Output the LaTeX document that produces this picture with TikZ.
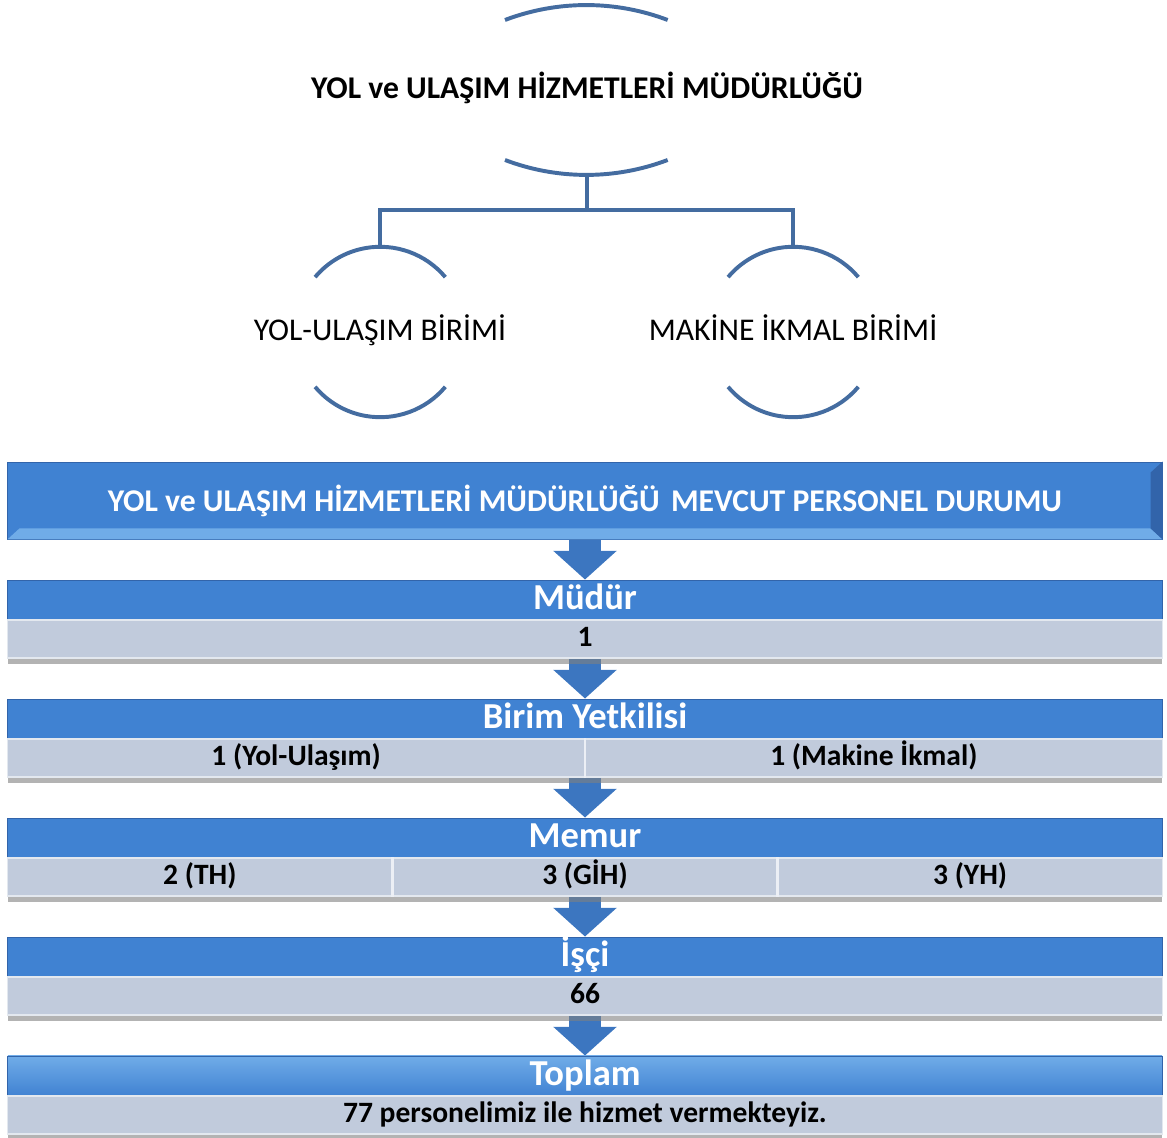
\documentclass[tikz,border=0pt]{standalone}
\usepackage{fontspec}
\setmainfont{Carlito}
\usetikzlibrary{calc,shadows,backgrounds,arrows.meta}
\definecolor{treeblue}{RGB}{68,108,160}
\definecolor{bandblue}{RGB}{64,130,210}
\definecolor{bandedge}{RGB}{50,100,170}
\definecolor{bandlight}{RGB}{112,172,232}
\definecolor{rowgrey}{RGB}{193,203,220}
\definecolor{arrowblue}{RGB}{60,118,192}
\tikzset{
  TreeLine/.style = {treeblue, line width=2.8pt},
  UnitStyle/.style = {circle, minimum size=4.25cm, inner sep=0pt},
  UnitText/.style = {font=\fontsize{22.5}{27}\selectfont, text height=17pt, text depth=5pt},
  BannerStyle/.style = {rectangle, fill=bandblue, draw=bandedge, line width=0.6pt,
                        minimum width=28.85cm, minimum height=1.925cm, inner sep=0pt,
                        text=white, font=\bfseries\fontsize{22.5}{27}\selectfont},
  HeadStyle/.style = {rectangle, fill=bandblue, draw=bandedge, line width=0.6pt,
                      minimum width=28.85cm, minimum height=1cm, inner sep=0pt,
                      text=white, font=\bfseries\fontsize{26}{30}\selectfont,
                      text height=18pt, text depth=5pt},
  RowStyle/.style = {rectangle, fill=rowgrey, draw=white!55!rowgrey, line width=0.8pt,
                     minimum width=28.85cm, minimum height=0.95cm, inner sep=0pt,
                     font=\bfseries\fontsize{21}{25}\selectfont,
                     text height=15pt, text depth=4pt,
                     drop shadow={shadow xshift=0pt, shadow yshift=-4pt, opacity=0.6}},
  CellText/.style = {inner sep=0pt, font=\bfseries\fontsize{21}{25}\selectfont,
                     text height=15pt, text depth=4pt},
  DownArrow/.style = {arrowblue, line width=0.8cm,
                      -{Triangle[width=1.55cm, length=0.72cm]}},
  Divider/.style = {white!70!rowgrey, line width=1.6pt}
}

\begin{document}
\begin{tikzpicture}[x=0.025cm, y=0.025cm]
  \useasboundingbox (0,0) rectangle (1167,1138);

  % top of the hierarchy
  \node[font=\bfseries\fontsize{22.5}{27}\selectfont] (ttl) at (587,1050)
       {YOL ve ULAŞIM HİZMETLERİ MÜDÜRLÜĞÜ};
  \draw[TreeLine] ($(ttl)+(-82,68)$) arc[start angle=110.8, end angle=69.2, radius=5.725cm];
  \draw[TreeLine] ($(ttl)+(-82,-72)$) arc[start angle=-110.8, end angle=-69.2, radius=5.725cm];
  \coordinate (ttlbot) at ($(ttl)+(0,-87)$);

  \node[UnitStyle, label={[UnitText]center:YOL-ULAŞIM BİRİMİ}] (yol) at (380,806) {};
  \node[UnitStyle, label={[UnitText]center:MAKİNE İKMAL BİRİMİ}] (mak) at (793,806) {};
  \draw[TreeLine] (yol.40) arc[start angle=40, end angle=140, radius=2.125cm];
  \draw[TreeLine] (yol.-40) arc[start angle=-40, end angle=-140, radius=2.125cm];
  \draw[TreeLine] (mak.40) arc[start angle=40, end angle=140, radius=2.125cm];
  \draw[TreeLine] (mak.-40) arc[start angle=-40, end angle=-140, radius=2.125cm];

  \draw[TreeLine] (ttlbot) -- ++(0,-35) coordinate (fork) -| (yol.north);
  \draw[TreeLine] (fork) -| (mak.north);

  % personnel table
  \node[BannerStyle] (banner) at (585,637.5)
       {YOL ve ULAŞIM HİZMETLERİ MÜDÜRLÜĞÜ\hspace{3pt} MEVCUT PERSONEL DURUMU};
  \fill[bandlight] (banner.south west) -- (banner.south east) -- ++(-12,11)
       -- ($(banner.south west)+(12,11)$) -- cycle;
  \fill[bandedge] (banner.south east) -- (banner.north east) -- ++(-12,-11)
       -- ($(banner.south east)+(-12,11)$) -- cycle;

  \node[HeadStyle] (mudurH) at (585,538) {Müdür};
  \node[RowStyle] (mudurV) at (585,499) {1};

  \node[HeadStyle] (birimH) at (585,419) {Birim Yetkilisi};
  \node[RowStyle] (birimV) at (585,380) {};
  \draw[Divider] (birimV.north) -- (birimV.south);
  \node[CellText] at ($(birimV.west)!0.25!(birimV.east)$) {1 (Yol-Ulaşım)};
  \node[CellText] at ($(birimV.west)!0.75!(birimV.east)$) {1 (Makine İkmal)};

  \node[HeadStyle] (memurH) at (585,300) {Memur};
  \node[RowStyle] (memurV) at (585,261) {};
  \draw[Divider] ($(memurV.north west)!1/3!(memurV.north east)$)
              -- ($(memurV.south west)!1/3!(memurV.south east)$);
  \draw[Divider] ($(memurV.north west)!2/3!(memurV.north east)$)
              -- ($(memurV.south west)!2/3!(memurV.south east)$);
  \node[CellText] at ($(memurV.west)!1/6!(memurV.east)$) {2 (TH)};
  \node[CellText] at ($(memurV.west)!1/2!(memurV.east)$) {3 (GİH)};
  \node[CellText] at ($(memurV.west)!5/6!(memurV.east)$) {3 (YH)};

  \node[HeadStyle] (isciH) at (585,181) {İşçi};
  \node[RowStyle] (isciV) at (585,142) {66};

  \node[HeadStyle, top color=bandlight, middle color=bandblue, bottom color=bandblue]
       (toplamH) at (585,62) {Toplam};
  \node[RowStyle] (toplamV) at (585,23) {77 personelimiz ile hizmet vermekteyiz.};

  % arrows behind the bands
  \begin{scope}[on background layer]
    \draw[DownArrow] ($(banner.south)+(0,12)$) -- (mudurH.north);
    \draw[DownArrow] ($(mudurV.south)+(0,12)$) -- (birimH.north);
    \draw[DownArrow] ($(birimV.south)+(0,12)$) -- (memurH.north);
    \draw[DownArrow] ($(memurV.south)+(0,12)$) -- (isciH.north);
    \draw[DownArrow] ($(isciV.south)+(0,12)$) -- (toplamH.north);
  \end{scope}
\end{tikzpicture}
\end{document}
